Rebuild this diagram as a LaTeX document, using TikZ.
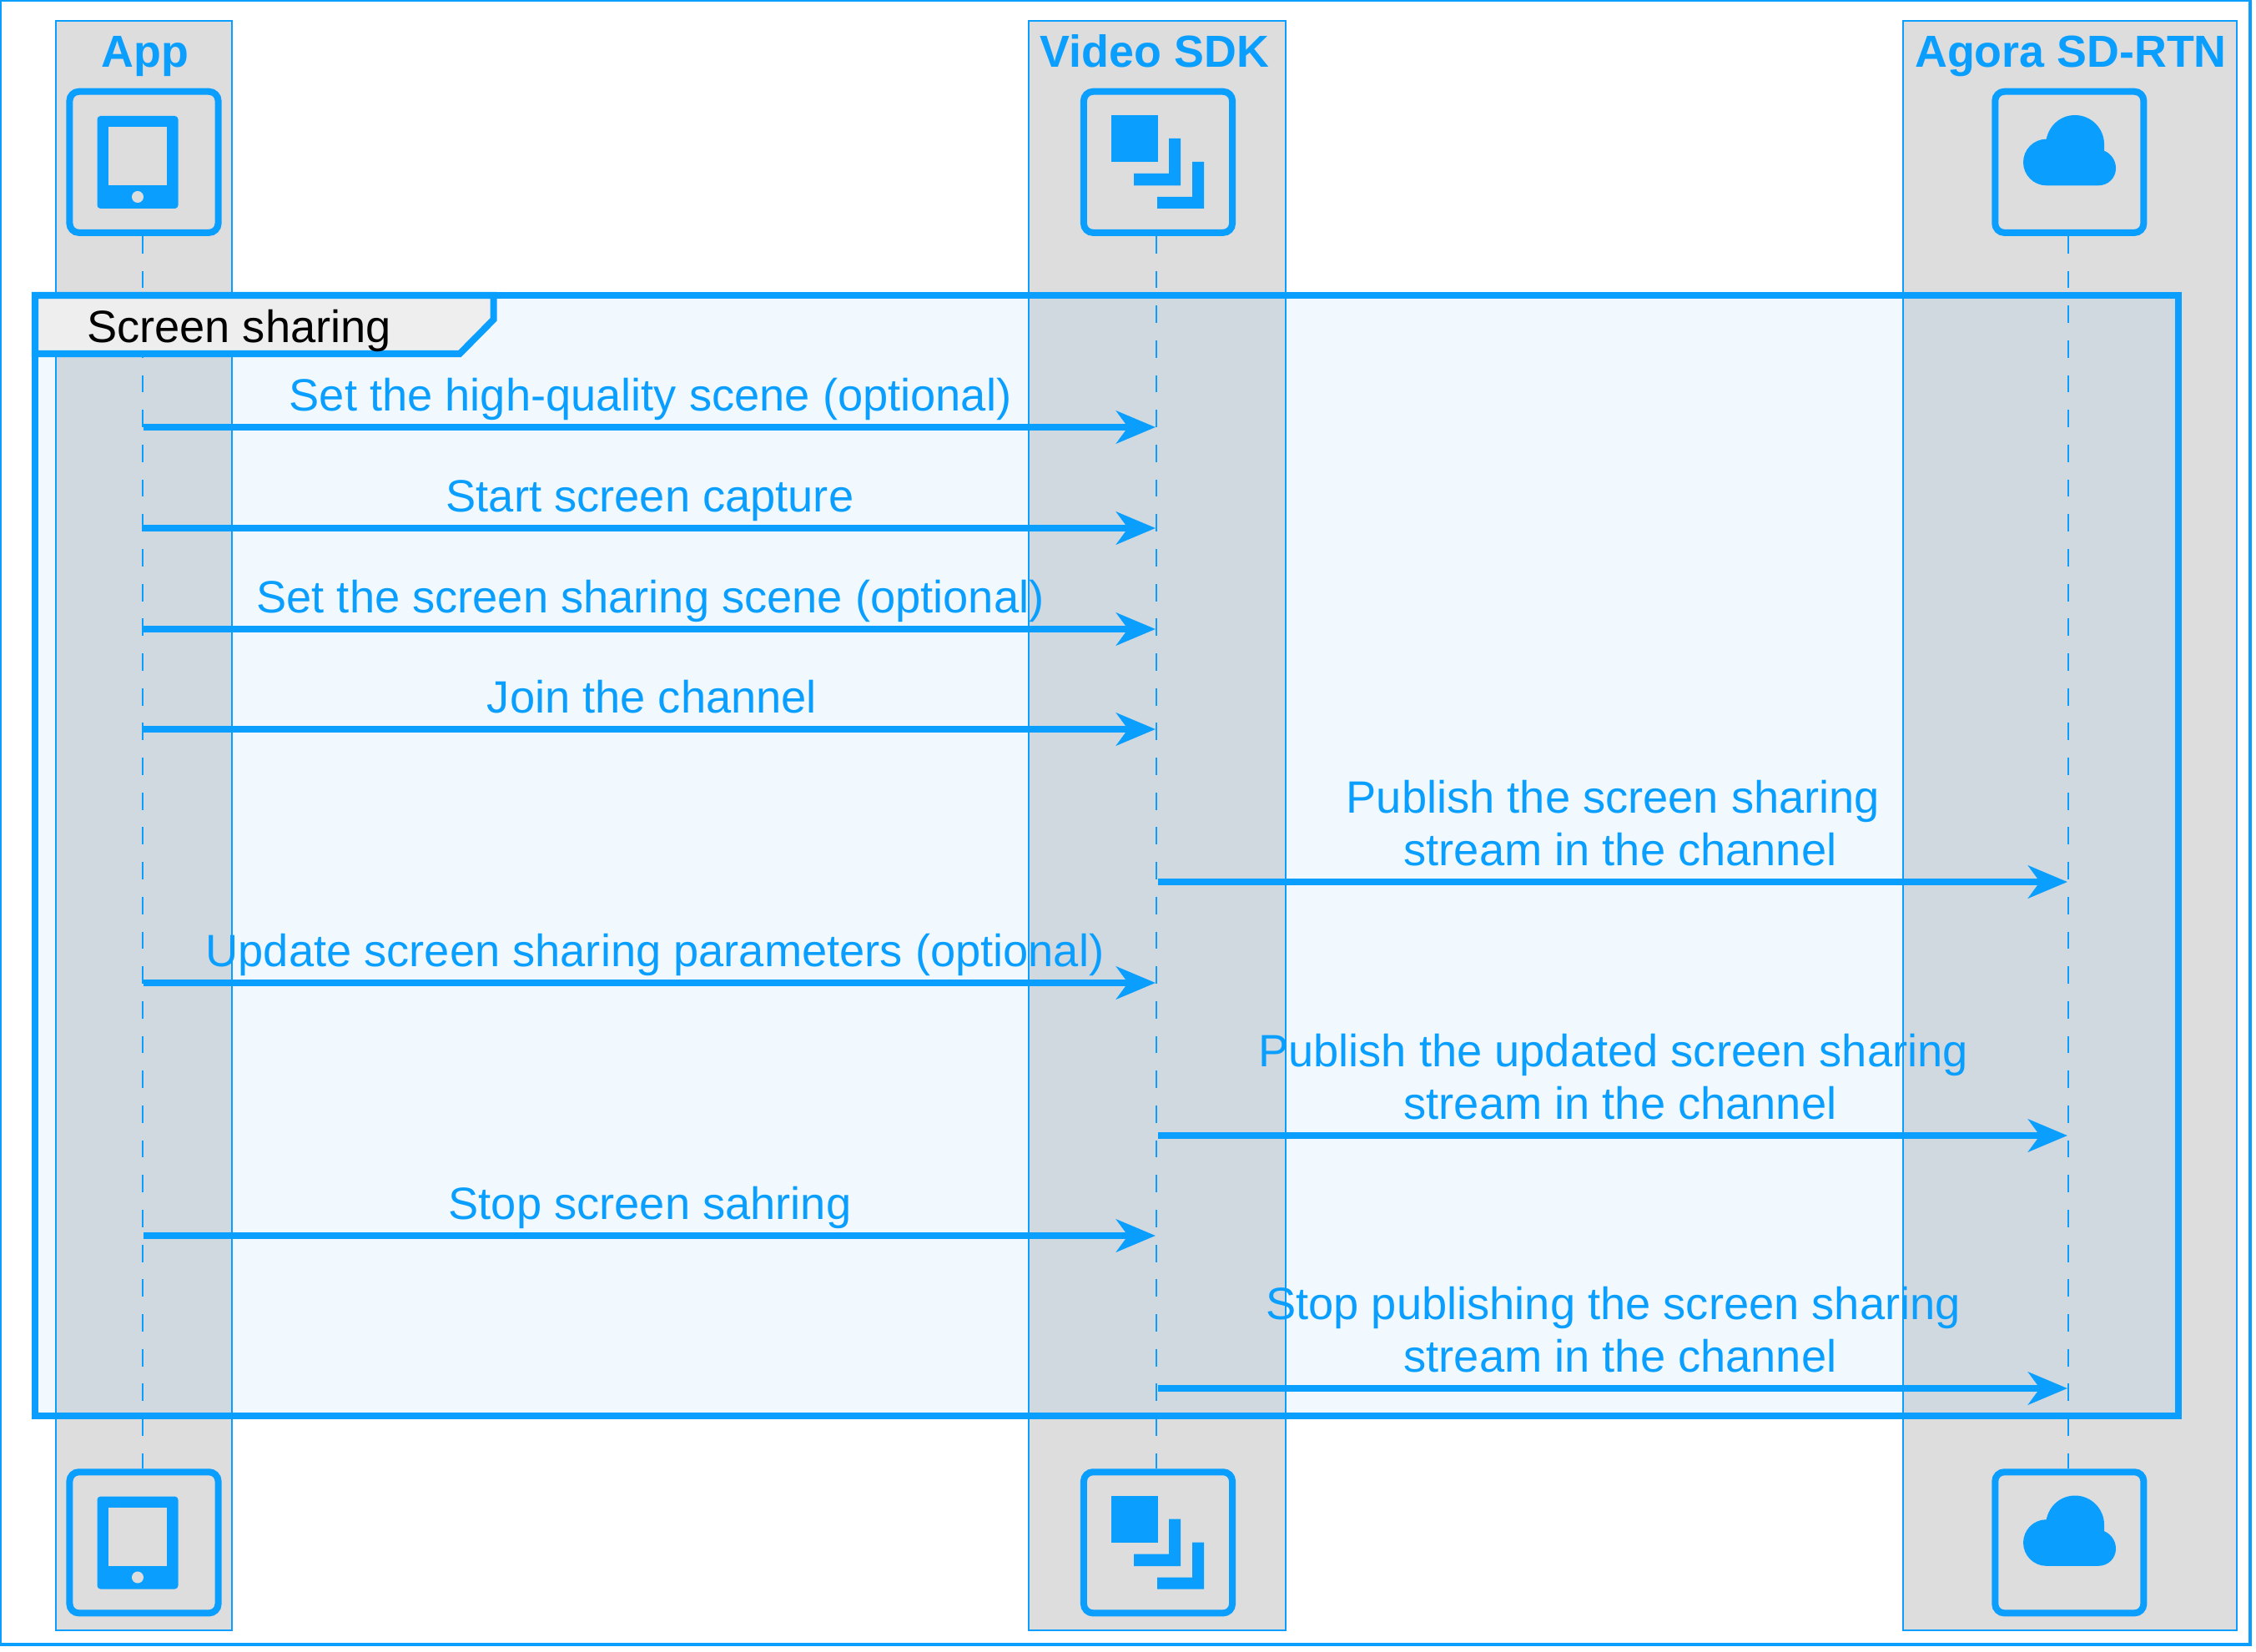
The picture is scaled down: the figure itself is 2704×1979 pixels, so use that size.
\documentclass[tikz,border=0pt]{standalone}
\usepackage{fontspec}
\setmainfont{Liberation Sans}
\usepackage{xcolor}
\usepackage{tikz}
\usetikzlibrary{arrows.meta,positioning}

\definecolor{agblue}{HTML}{0A9FFF}
\definecolor{laneGray}{HTML}{DDDDDD}
\definecolor{tabGray}{HTML}{EEEEEE}

\tikzset{
  lane/.style={draw=agblue,line width=.02cm,fill=laneGray},
  lanetitle/.style={anchor=base,text=agblue,font=\fontsize{15.3pt}{18pt}\selectfont\bfseries},
  actorbox/.style={draw=agblue,line width=.08cm,rounded corners=.11cm,minimum width=1.78cm,minimum height=1.69cm,inner sep=0pt},
  lifeline/.style={draw=agblue,line width=.02cm,dash pattern=on .2083cm off .2083cm},
  groupbox/.style={draw=agblue,line width=.08cm,fill=agblue,fill opacity=.06},
  grouptab/.style={draw=agblue,line width=.08cm,fill=tabGray},
  msgline/.style={draw=agblue,line width=.08cm,-{Stealth[length=.47cm,width=.39cm,inset=.14cm]}},
  msgtext/.style={anchor=base,text=agblue,align=center,inner sep=0pt,font=\fontsize{15.43pt}{17.64pt}\selectfont}
}

\begin{document}
\begin{tikzpicture}[x=.01cm,y=-.01cm]
    \useasboundingbox (0,0) rectangle (2704,1979);
    \draw[agblue,line width=.04cm] (.3,.3) rectangle (2697,1970.5);

    \draw[lane] (67,25) rectangle (278,1954);
    \draw[lane] (1233,25) rectangle (1541,1954);
    \draw[lane] (2281,25) rectangle (2681,1954);

    \node[lanetitle] (apptitle) at (174,81) {App};
    \node[lanetitle] (sdktitle) at (1384,81) {Video SDK};
    \node[lanetitle] (rtntitle) at (2482,81) {Agora SD-RTN};

    \coordinate (applife) at (170.5,0);
    \coordinate (sdklife) at (1386,0);
    \coordinate (rtnlife) at (2479,0);

    \foreach \dy/\pos in {0/top,1654.5/bot} {
      \node[actorbox] (app\pos) at (172.5,194.3+\dy) {};
      \node[actorbox] (sdk\pos) at (1388,194.3+\dy) {};
      \node[actorbox] (rtn\pos) at (2480.3,194.3+\dy) {};
      \begin{scope}[shift={(0,\dy)}]
        % tablet
        \fill[agblue,rounded corners=.04cm] (116.5,139) rectangle (213.5,250);
        \fill[laneGray] (130,152.5) rectangle (199.5,222);
        \fill[laneGray] (165,236) circle (.07cm);
        % stacked squares
        \fill[agblue] (1331.7,138.5) rectangle (1387.5,194.5);
        \fill[agblue] (1401,166) -- (1415,166) -- (1415,222.5) -- (1359,222.5) -- (1359,208) -- (1401,208) -- cycle;
        \fill[agblue] (1429,194) -- (1443,194) -- (1443,250) -- (1387,250) -- (1387,236) -- (1429,236) -- cycle;
        % cloud
        \fill[agblue] (2452.7,166.7) .. controls (2456,150) and (2470,138) .. (2487,138)
          .. controls (2506.3,138) and (2522,153.7) .. (2522,173) -- (2522,180.7)
          .. controls (2530,184) and (2536,192) .. (2536,201.7)
          .. controls (2536,213) and (2527,222.3) .. (2515,222.3) -- (2452.7,222.3)
          .. controls (2437.4,222.3) and (2425,209.8) .. (2425,194.5)
          .. controls (2425,179.2) and (2437.4,166.7) .. (2452.7,166.7) -- cycle;
      \end{scope}
    }

    \draw[lifeline] (apptop.south -| applife) -- (appbot.north -| applife);
    \draw[lifeline] (sdktop.south -| sdklife) -- (sdkbot.north -| sdklife);
    \draw[lifeline] (rtntop.south -| rtnlife) -- (rtnbot.north -| rtnlife);

    \draw[groupbox] (42,354) rectangle (2611,1697);
    \draw[grouptab] (42,354) -- (591.5,354) -- (591.5,383) -- (551,424) -- (42,424) -- cycle;
    \node[anchor=base,inner sep=0pt,font=\fontsize{15.43pt}{17.64pt}\selectfont] (grouptitle) at (286.5,410) {Screen sharing};

    \coordinate (a1) at (172,512);   \coordinate (s1) at (1385,512);
    \coordinate (a2) at (172,633);   \coordinate (s2) at (1385,633);
    \coordinate (a3) at (172,754);   \coordinate (s3) at (1385,754);
    \coordinate (a4) at (172,874);   \coordinate (s4) at (1385,874);
    \coordinate (s5) at (1388,1057); \coordinate (r5) at (2478,1057);
    \coordinate (a6) at (172,1178);  \coordinate (s6) at (1385,1178);
    \coordinate (s7) at (1388,1361); \coordinate (r7) at (2478,1361);
    \coordinate (a8) at (172,1481);  \coordinate (s8) at (1385,1481);
    \coordinate (s9) at (1388,1664); \coordinate (r9) at (2478,1664);

    \draw[msgline] (a1) -- (s1);
    \draw[msgline] (a2) -- (s2);
    \draw[msgline] (a3) -- (s3);
    \draw[msgline] (a4) -- (s4);
    \draw[msgline] (s5) -- (r5);
    \draw[msgline] (a6) -- (s6);
    \draw[msgline] (s7) -- (r7);
    \draw[msgline] (a8) -- (s8);
    \draw[msgline] (s9) -- (r9);

    \node[msgtext] (m1) at (779.5,492) {Set the high-quality scene (optional)};
    \node[msgtext] (m2) at (779,613) {Start screen capture};
    \node[msgtext] (m3) at (779.5,734) {Set the screen sharing scene (optional)};
    \node[msgtext] (m4) at (781.5,854) {Join the channel};
    \node[msgtext] (m5) at (1942,1037) {Publish the screen sharing\hspace*{.17cm}\\stream in the channel};
    \node[msgtext] (m6) at (785,1158) {Update screen sharing parameters (optional)};
    \node[msgtext] (m7) at (1942,1341) {Publish the updated screen sharing\hspace*{.17cm}\\stream in the channel};
    \node[msgtext] (m8) at (779,1461) {Stop screen sahring};
    \node[msgtext] (m9) at (1942,1644) {Stop publishing the screen sharing\hspace*{.17cm}\\stream in the channel};
\end{tikzpicture}
\end{document}
